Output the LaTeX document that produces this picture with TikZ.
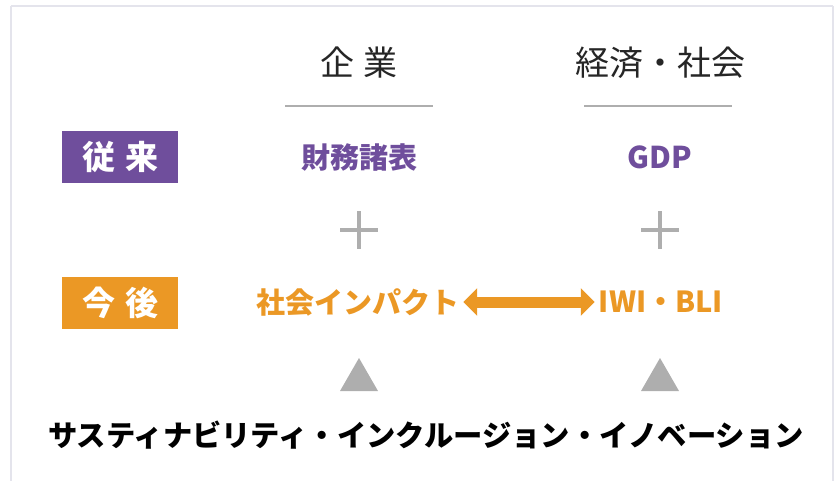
\documentclass[tikz,border=0pt]{standalone}
\usepackage{fontspec}
\setmainfont{Noto Sans CJK JP}
\usetikzlibrary{arrows.meta}
\definecolor{purp}{HTML}{6F4E9C}
\definecolor{oran}{HTML}{EB9825}
\definecolor{gry}{HTML}{AEAEAE}
\definecolor{frame}{HTML}{E4E4EC}
\begin{document}
\begin{tikzpicture}[x=1pt,y=-1pt,
  head/.style={font=\fontsize{34}{36}\selectfont, text=black!85, inner sep=0pt},
  tag/.style={minimum width=116pt, minimum height=52pt, inner sep=0pt, text=white, font=\fontsize{33}{35}\selectfont\bfseries},
  val/.style={font=\fontsize{29}{31}\selectfont\bfseries, inner sep=3pt},
  rule/.style={draw=gry, line width=2pt},
  plus/.style={draw=gry, line width=4pt},
  tri/.style={fill=gry}
]
\useasboundingbox (0,0) rectangle (834,481);
\draw[frame, line width=1.5pt] (11,6) -- (833,6) (11,6) -- (11,490) (833,6) -- (833,490);

\node[head] (hc) at (359,63) {企\hspace{9pt}業};
\node[head] (he) at (660,63) {経済・社会};
\coordinate (r1a) at (285,106); \coordinate (r1b) at (433,106);
\coordinate (r2a) at (584,106); \coordinate (r2b) at (732,106);
\draw[rule] (r1a) -- (r1b);
\draw[rule] (r2a) -- (r2b);

\node[tag, fill=purp] (old) at (120,157) {従\hspace{10pt}来};
\node[tag, fill=oran] (new) at (120,303) {今\hspace{10pt}後};

\node[val, text=purp] (fin) at (359,157) {財務諸表};
\node[val, text=purp, font=\fontsize{30}{32}\selectfont\bfseries] (gdp) at (660,157) {GDP};

\draw[plus] (340,230) -- (378,230) (359,211) -- (359,249);
\draw[plus] (641,230) -- (679,230) (660,211) -- (660,249);

\node[val, text=oran, inner sep=3.5pt] (imp) at (358,302) {社会インパクト};
\node[val, text=oran, inner sep=4pt] (iwi) at (661,302) {IWI・BLI};
\draw[oran, line width=11pt, {Triangle[width=27pt,length=14pt]}-{Triangle[width=27pt,length=14pt]}] (imp.east) -- (iwi.west);

\fill[gry] (359,358) -- (378,391) -- (340,391) -- cycle;
\fill[gry] (660,358) -- (679,391) -- (641,391) -- cycle;

\node[font=\fontsize{29.3}{31}\selectfont\bfseries, text=black] (bottom) at (426,435) {サスティナビリティ・インクルージョン・イノベーション};
\end{tikzpicture}
\end{document}
